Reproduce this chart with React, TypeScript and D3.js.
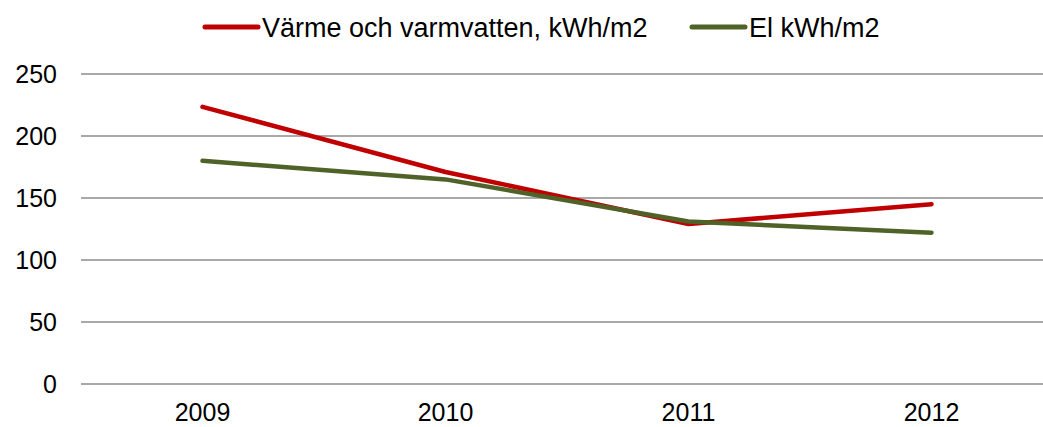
import React from "react";
import * as d3 from "d3";

const years = ["2009", "2010", "2011", "2012"];
const heatValues = [223.5, 171, 129, 145];
const elValues = [180, 165, 131, 122];
const yTicks = [0, 50, 100, 150, 200, 250];
const seriesNames = ["Värme och varmvatten, kWh/m2", "El kWh/m2"];
const seriesColors = ["#C00000", "#4F6228"];

const W = 1043;
const H = 427;

export default function App() {
  const x = d3.scaleBand<string>().domain(years).range([81, 1053]);
  const y = d3.scaleLinear().domain([0, 250]).range([384, 74]);
  const line = d3
    .line<number>()
    .x((_, i) => (x(years[i]) as number) + x.bandwidth() / 2)
    .y((d) => y(d));
  const series = [heatValues, elValues];
  const legendX = [205, 692];
  const font = "'Liberation Sans', Arial, sans-serif";

  return (
    <svg
      width={W}
      height={H}
      style={{ position: "absolute", left: 0, top: 0, background: "#fff" }}
      fontFamily={font}
    >
      {yTicks.map((t) => (
        <g key={t}>
          <line x1={81} x2={W} y1={y(t)} y2={y(t)} stroke="#8c8c8c" strokeWidth={1.3} />
          <text x={57} y={y(t)} dy="0.35em" textAnchor="end" fontSize={25} fill="#000">
            {t}
          </text>
        </g>
      ))}
      {years.map((yr) => (
        <text
          key={yr}
          x={(x(yr) as number) + x.bandwidth() / 2}
          y={421}
          textAnchor="middle"
          fontSize={25}
          fill="#000"
        >
          {yr}
        </text>
      ))}
      {series.map((s, i) => (
        <path
          key={i}
          d={line(s) || ""}
          fill="none"
          stroke={seriesColors[i]}
          strokeWidth={4.5}
          strokeLinecap="round"
          strokeLinejoin="round"
        />
      ))}
      {seriesNames.map((n, i) => (
        <g key={n}>
          <line
            x1={legendX[i]}
            x2={legendX[i] + 53}
            y1={27}
            y2={27}
            stroke={seriesColors[i]}
            strokeWidth={5}
            strokeLinecap="round"
          />
          <text x={legendX[i] + 57} y={37} fontSize={27} fill="#000">
            {n}
          </text>
        </g>
      ))}
    </svg>
  );
}
